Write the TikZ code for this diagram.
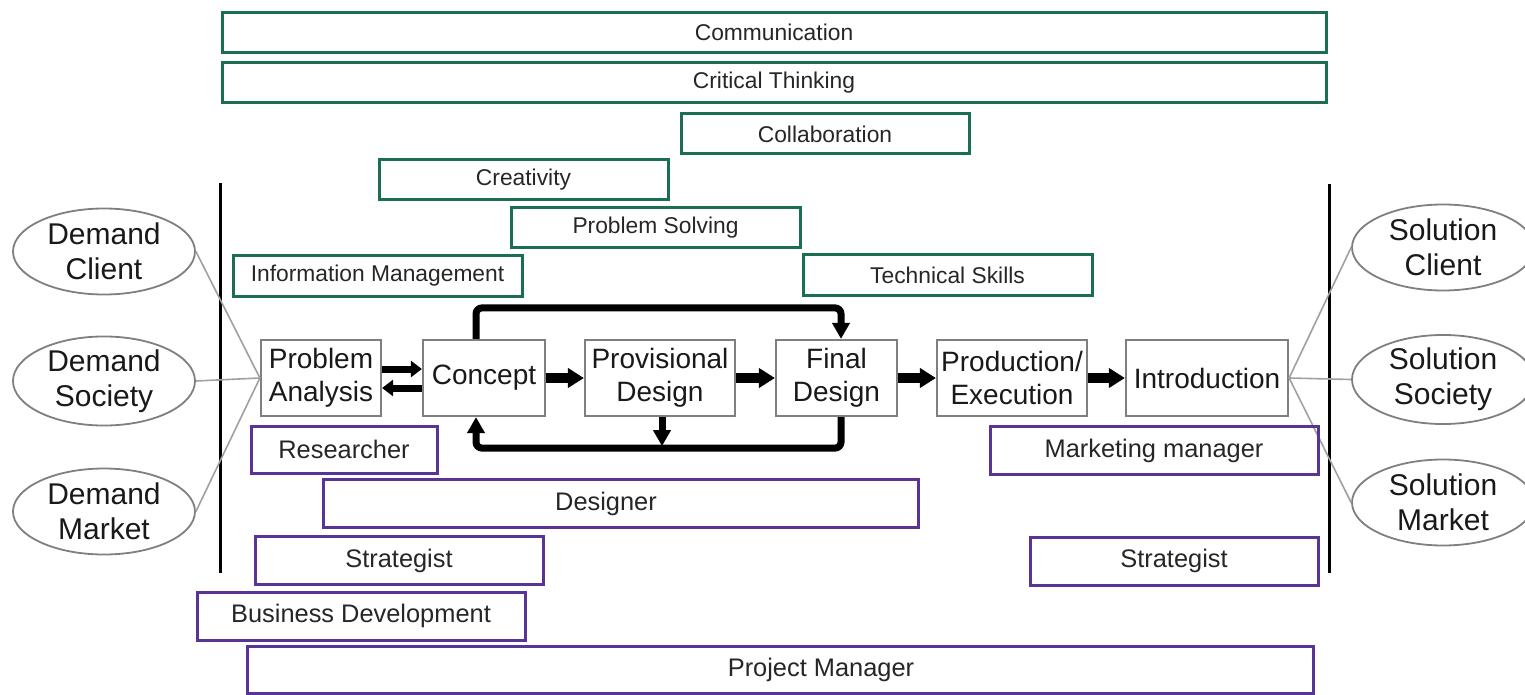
\documentclass[tikz,border=0pt]{standalone}
\usepackage{fontspec}
\setmainfont{Liberation Sans}
\usetikzlibrary{arrows.meta,shapes.geometric,calc}
\definecolor{skillgreen}{HTML}{1B6E52}
\definecolor{rolepurple}{HTML}{5A3494}
\definecolor{boxgray}{HTML}{7F7F7F}
\definecolor{linegray}{HTML}{A0A0A0}
\begin{document}
\begin{tikzpicture}[x=0.5pt,y=-0.5pt,
  gbox/.style={draw=skillgreen,line width=1.5pt,inner sep=0pt,minimum height=20pt,font=\fontsize{11.4}{13}\selectfont,text=black!85},
  pbox/.style={draw=rolepurple,line width=1.5pt,inner sep=0pt,minimum height=24pt,font=\fontsize{12.7}{15}\selectfont,text=black!85},
  procbox/.style={draw=boxgray,line width=1.1pt,inner sep=0pt,minimum height=38pt,align=center,font=\fontsize{14}{16.5}\selectfont,text=black!90},
  ell/.style={ellipse,draw=boxgray,line width=0.9pt,inner sep=0pt,minimum width=91pt,minimum height=43pt,align=center,font=\fontsize{15}{17.5}\selectfont,text=black!90},
  glink/.style={draw=linegray,line width=0.8pt},
  vline/.style={draw=black,line width=1.5pt},
  bigarrow/.style={draw=black,line width=5pt,-{Triangle[width=9.5pt,length=8pt]}},
  smallarrow/.style={draw=black,line width=3.5pt,-{Triangle[width=8pt,length=5.5pt]}},
  looparrow/.style={draw=black,line width=3.5pt,rounded corners=3pt,-{Triangle[width=8.5pt,length=8pt]}}
]
\useasboundingbox (0,0) rectangle (1525,695);

% skills (green)
\node[gbox,minimum width=552pt] (comm) at (774,32.5) {Communication};
\node[gbox,minimum width=552pt] (crit) at (774,83) {Critical Thinking};
\node[gbox,minimum width=144pt] (coll) at (825,134) {Collaboration};
\node[gbox,minimum width=144.5pt] (crea) at (523.5,180) {Creativity};
\node[gbox,minimum width=144.5pt] (psol) at (655.5,228) {Problem Solving};
\node[gbox,minimum width=144.5pt] (info) at (377.5,276) {Information Management};
\node[gbox,minimum width=144.5pt] (tech) at (947.5,275) {Technical Skills};

% vertical bars
\coordinate (lt) at (220,183); \coordinate (lb) at (220,573);
\coordinate (rt) at (1329,184); \coordinate (rb) at (1329,573);
\draw[vline] (lt) -- (lb);
\draw[vline] (rt) -- (rb);

% process
\node[procbox,minimum width=60pt] (pa) at (321,378) {Problem\\Analysis};
\node[procbox,minimum width=61pt] (con) at (484,378) {Concept};
\node[procbox,minimum width=75pt] (prov) at (660,378) {Provisional\\Design};
\node[procbox,minimum width=60.5pt] (fin) at (836.5,378) {Final\\Design};
\node[procbox,minimum width=75pt] (prod) at (1012,378) {Production/\\Execution};
\node[procbox,minimum width=81pt] (intro) at (1207,378) {Introduction};

% ellipses
\node[ell] (dc) at (104,251.5) {Demand\\Client};
\node[ell] (ds) at (104,381) {Demand\\Society};
\node[ell] (dm) at (104,511.5) {Demand\\Market};
\node[ell] (sc) at (1443,247.5) {Solution\\Client};
\node[ell] (ss) at (1443,379.5) {Solution\\Society};
\node[ell] (sm) at (1443,502.5) {Solution\\Market};

\draw[glink] (dc.east) -- (pa.west);
\draw[glink] (ds.east) -- (pa.west);
\draw[glink] (dm.east) -- (pa.west);
\draw[glink] (intro.east) -- (sc.west);
\draw[glink] (intro.east) -- (ss.west);
\draw[glink] (intro.east) -- (sm.west);

% arrows
\draw[smallarrow] ($(pa.east)+(0,-9)$) -- ($(con.west)+(0,-9)$);
\draw[smallarrow] ($(con.west)+(0,10)$) -- ($(pa.east)+(0,10)$);
\draw[bigarrow] (con) -- (prov);
\draw[bigarrow] (prov) -- (fin);
\draw[bigarrow] (fin) -- (prod);
\draw[bigarrow] (prod) -- (intro);
\draw[looparrow] ($(con.north)+(-8,0)$) -- ++(0,-31) -| ($(fin.north)+(4.5,0)$);
\draw[looparrow] ($(fin.south)+(4.5,0)$) -- ++(0,31) -| ($(con.south)+(-8,0)$);
\draw[looparrow] ($(prov.south)+(2,0)$) -- ++(0,29);

% roles (purple)
\node[pbox,minimum width=93pt,minimum height=23.5pt] (res) at (344,449.5) {Researcher};
\node[pbox,minimum width=297.5pt] (des) at (620.5,503.5) {};
\node[font=\fontsize{12.7}{15}\selectfont,text=black!85] (destext) at (606,503.5) {Designer};
\node[pbox,minimum width=144pt] (strl) at (399,560.5) {Strategist};
\node[pbox,minimum width=164pt] (bd) at (361,616) {Business Development};
\node[pbox,minimum width=533pt,minimum height=23.5pt] (pm) at (780,669.5) {};
\node[font=\fontsize{12.7}{15}\selectfont,text=black!85] (pmtext) at (821,669.5) {Project Manager};
\node[pbox,minimum width=164pt] (mm) at (1154,450.5) {Marketing manager};
\node[pbox,minimum width=144pt] (strr) at (1174,561) {Strategist};
\end{tikzpicture}
\end{document}
